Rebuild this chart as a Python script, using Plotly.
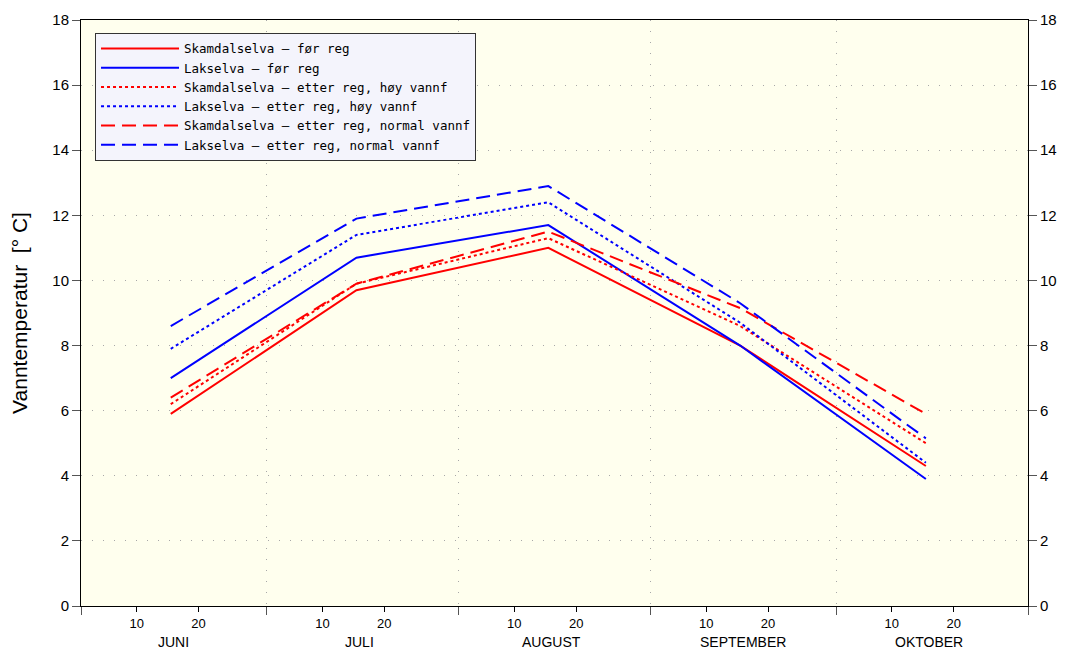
import plotly.graph_objects as go

# ---- data ----
dates = ["2000-06-15 12:00", "2000-07-15 12:00", "2000-08-15 12:00",
         "2000-09-15 12:00", "2000-10-15 12:00"]
skam_for = [5.9, 9.7, 11.0, 8.0, 4.3]
laks_for = [7.0, 10.7, 11.7, 8.0, 3.9]
skam_hoy = [6.2, 9.9, 11.3, 8.6, 5.0]
laks_hoy = [7.9, 11.4, 12.4, 8.7, 4.4]
skam_norm = [6.4, 9.9, 11.5, 9.15, 5.9]
laks_norm = [8.6, 11.9, 12.9, 9.3, 5.15]

names = ["Skamdalselva – før reg", "Lakselva – før reg",
         "Skamdalselva – etter reg, høy vannf", "Lakselva – etter reg, høy vannf",
         "Skamdalselva – etter reg, normal vannf", "Lakselva – etter reg, normal vannf"]

month_starts = ["2000-06-01", "2000-07-01", "2000-08-01", "2000-09-01",
                "2000-10-01", "2000-11-01"]
day_ticks = ["2000-06-10", "2000-06-20", "2000-07-10", "2000-07-20",
             "2000-08-10", "2000-08-20", "2000-09-10", "2000-09-20",
             "2000-10-10", "2000-10-20"]
day_labels = ["10", "20"] * 5
month_mid = ["2000-06-16", "2000-07-16", "2000-08-16", "2000-09-16", "2000-10-16"]
month_names = ["JUNI", "JULI", "AUGUST", "SEPTEMBER", "OKTOBER"]
y_ticks = list(range(0, 19, 2))

series = [skam_for, laks_for, skam_hoy, laks_hoy, skam_norm, laks_norm]
colors = ["#FF0000", "#0000FF"] * 3
dashes = ["solid", "solid", "dot", "dot", "14px,7px", "14px,7px"]

fig = go.Figure()
for s, n, c, d in zip(series, names, colors, dashes):
    fig.add_trace(go.Scatter(x=dates, y=s, name=n, mode="lines",
                             line=dict(color=c, width=2, dash=d)))
# dummy trace for the right axis
fig.add_trace(go.Scatter(x=[dates[0]], y=[None], yaxis="y2", showlegend=False,
                         hoverinfo="skip"))

for xm, mn in zip(month_mid, month_names):
    fig.add_annotation(x=xm, y=0, xref="x", yref="paper", text=mn, showarrow=False,
                       yanchor="top", yshift=-26,
                       font=dict(family="Liberation Sans", size=14, color="black"))

gridc = "#A8A8A8"
# page body has an 8px margin, so the figure is sized/offset to compensate
fig.update_layout(
    width=1059, height=642,
    margin=dict(l=73, r=39, t=12, b=44, autoexpand=False),
    paper_bgcolor="white", plot_bgcolor="#FFFFEE",
    font=dict(family="Liberation Sans", size=15, color="black"),
    showlegend=True,
    legend=dict(x=0.0148, y=0.978, xanchor="left", yanchor="top",
                bgcolor="#F4F4FC", bordercolor="#333333", borderwidth=1,
                font=dict(family="DejaVu Sans Mono", size=12.5, color="black"),
                tracegroupgap=0, itemwidth=78),
    xaxis=dict(type="date", range=["2000-06-01", "2000-11-01"], automargin=False,
               tickmode="array", tickvals=day_ticks, ticktext=day_labels,
               ticks="outside", ticklen=5, tickcolor="black",
               tickfont=dict(size=13),
               showgrid=False, zeroline=False,
               showline=True, linecolor="black", linewidth=1, mirror=True,
               minor=dict(tickmode="array", tickvals=month_starts, ticks="outside",
                          ticklen=8, tickcolor="#555555", showgrid=True,
                          gridcolor=gridc, griddash="1px,10px", gridwidth=1)),
    yaxis=dict(range=[0, 18], tickmode="array", tickvals=y_ticks, automargin=False,
               ticks="outside", ticklen=8, tickcolor="#555555",
               showgrid=True, gridcolor=gridc, griddash="1px,10px",
               zeroline=False, showline=True, linecolor="black", linewidth=1,
               title=dict(text="Vanntemperatur  [° C]", font=dict(size=21), standoff=25)),
    yaxis2=dict(range=[0, 18], tickmode="array", tickvals=y_ticks, automargin=False,
                overlaying="y", side="right",
                ticks="outside", ticklen=8, tickcolor="#555555",
                showgrid=False, zeroline=False, showline=True,
                linecolor="black", linewidth=1),
)

fig.write_html("out.html")
